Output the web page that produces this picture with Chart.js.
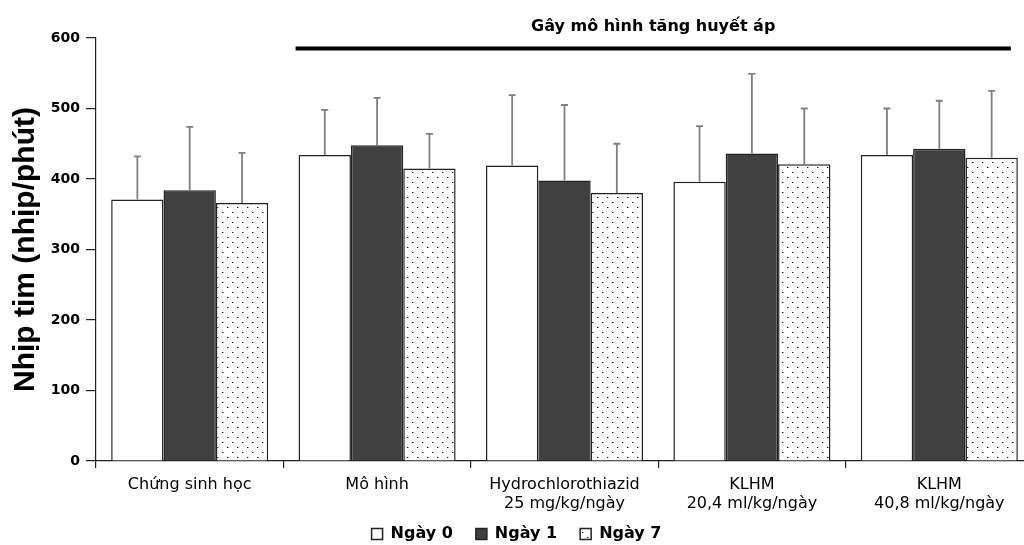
<!DOCTYPE html>
<html><head><meta charset="utf-8">
<script src="https://cdn.jsdelivr.net/npm/chart.js@4.4.0/dist/chart.umd.min.js"></script>
<style>
html,body{margin:0;padding:0;overflow:hidden;background:#fff;width:1024px;height:545px}
#wrap{position:absolute;left:0;top:0;width:1045px;height:552px}
</style>
</head><body><div id="wrap"><canvas id="c" width="1045" height="552"></canvas></div>
<script>
const categories = [["Chứng sinh học"],["Mô hình"],["Hydrochlorothiazid","25 mg/kg/ngày"],["KLHM","20,4 ml/kg/ngày"],["KLHM","40,8 ml/kg/ngày"]];
const seriesLabels = ["Ngày 0","Ngày 1","Ngày 7"];
const day0 = [371,434,419,396,434];
const day1 = [384,448,398,436,443];
const day7 = [366,415,380,421,430];
const day0Err = [61,64,100,79,66];
const day1Err = [90,67,107,113,68];
const day7Err = [71,49,70,79,95];
const yMin = 0, yMax = 600, yStep = 100;
const yTitle = "Nhịp tim (nhịp/phút)";
const bracketTitle = "Gây mô hình tăng huyết áp";

function dotPattern(){
  const t=document.createElement('canvas');t.width=10;t.height=10;
  const g=t.getContext('2d');
  g.fillStyle='#fff';g.fillRect(0,0,10,10);
  g.fillStyle='#111';g.fillRect(2,2,1,1);g.fillRect(7,7,1,1);
  g.fillStyle='#aaa';g.fillRect(3,2,1,1);g.fillRect(8,7,1,1);
  return g.createPattern(t,'repeat');
}
const pat = dotPattern();

const errorBars = {
  id:'errorBars',
  afterDatasetsDraw(chart){
    const ctx=chart.ctx, ys=chart.scales.y;
    const errs=[day0Err,day1Err,day7Err];
    ctx.save();
    ctx.strokeStyle='#808080';ctx.lineWidth=1.8;
    chart.data.datasets.forEach((ds,i)=>{
      const meta=chart.getDatasetMeta(i);
      meta.data.forEach((el,j)=>{
        const top=ys.getPixelForValue(ds.data[j]+errs[i][j]);
        ctx.beginPath();
        ctx.moveTo(el.x,el.y);ctx.lineTo(el.x,top);
        ctx.moveTo(el.x-3.5,top);ctx.lineTo(el.x+3.5,top);
        ctx.stroke();
      });
    });
    ctx.restore();
  }
};

const bracket = {
  id:'bracket',
  afterLayout(chart){
    // let the two-line category labels extend below the axis box
    chart.scales.x.bottom = chart.height;
  },
  afterDraw(chart){
    const ctx=chart.ctx;
    const a=chart.getDatasetMeta(0).data[1];
    const b=chart.getDatasetMeta(2).data[4];
    const x1=a.x-a.width/2-3, x2=b.x+b.width/2-7;
    ctx.save();
    ctx.strokeStyle='#000';ctx.lineWidth=4;
    ctx.beginPath();ctx.moveTo(x1,48.5);ctx.lineTo(x2,48.5);ctx.stroke();
    ctx.fillStyle='#000';ctx.font='bold 16px "DejaVu Sans"';
    ctx.textAlign='center';ctx.textBaseline='middle';
    ctx.fillText(bracketTitle,(x1+x2)/2,27);
    ctx.restore();
  }
};

new Chart(document.getElementById('c'),{
  type:'bar',
  data:{
    labels:categories,
    datasets:[
      {label:seriesLabels[0],data:day0,backgroundColor:'#ffffff',borderColor:'#222',borderWidth:1.5},
      {label:seriesLabels[1],data:day1,backgroundColor:'#404040',borderColor:'#222',borderWidth:1.5},
      {label:seriesLabels[2],data:day7,backgroundColor:pat,borderColor:'#222',borderWidth:1.5}
    ]
  },
  options:{
    responsive:false,animation:false,
    layout:{padding:{top:38,right:12,left:0,bottom:0}},
    datasets:{bar:{categoryPercentage:0.838,barPercentage:1.0}},
    plugins:{
      legend:{position:'bottom',labels:{boxWidth:11,boxHeight:11,padding:23,color:'#000',font:{family:'"DejaVu Sans"',size:16,weight:'bold'}}},
      tooltip:{enabled:false},
      title:{display:false}
    },
    scales:{
      x:{
        grid:{display:true,drawOnChartArea:false,drawTicks:true,tickLength:7,color:'#222',offset:true,lineWidth:1.2},
        border:{color:'#222',width:1.2},
        ticks:{color:'#000',padding:8,maxRotation:0,autoSkip:false,font:{family:'"DejaVu Sans"',size:16,lineHeight:1.15}},
        afterFit(s){s.height=42;}
      },
      y:{
        min:yMin,max:yMax,
        grid:{display:true,drawOnChartArea:false,drawTicks:true,tickLength:10,color:'#222',lineWidth:1.2},
        border:{color:'#222',width:1.2},
        ticks:{stepSize:yStep,color:'#000',padding:6,font:{family:'"DejaVu Sans"',size:14,weight:'bold'}},
        title:{display:true,text:yTitle,color:'#000',padding:{top:8,bottom:0},font:{family:'"Liberation Sans", Arial',size:30,weight:'bold'}},
        afterFit(s){s.width=96;}
      }
    }
  },
  plugins:[errorBars,bracket]
});
</script>
</body></html>
